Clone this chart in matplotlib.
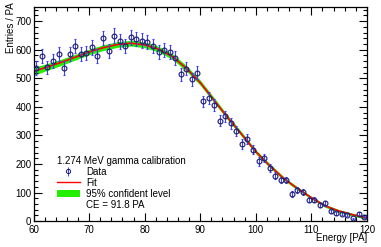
import numpy as np
import matplotlib
matplotlib.use('Agg')
import matplotlib.pyplot as plt
from matplotlib.lines import Line2D
from matplotlib.patches import Patch
from matplotlib.ticker import MultipleLocator

plt.rcParams['font.family'] = ['Liberation Sans', 'DejaVu Sans']

# histogram: bin centres and entries (1 PA bins)
energy = np.arange(60.5, 120, 1.0)
entries = [536, 579, 538, 561, 586, 536, 584, 612, 585, 588,
           608, 579, 641, 594, 649, 629, 614, 643, 637, 632,
           626, 612, 591, 600, 591, 572, 514, 533, 497, 519,
           419, 430, 406, 352, 367, 342, 314, 270, 288, 249,
           209, 220, 185, 159, 144, 144, 95, 109, 101, 74,
           74, 56, 62, 34, 27, 25, 22, 9, 25, 15]
entries = np.array(entries, dtype=float)
errors = np.sqrt(entries)

# fit curve, with the 95% band half-width
fit_x = np.arange(60, 120.1, 2.5)
fit_y = np.array([524, 540, 556, 574, 592, 607, 618, 623, 617, 602,
                  576, 535, 485, 423, 361, 303, 243, 194, 150, 114,
                  82, 53, 35, 22, 11], dtype=float)
band_hw = np.array([14, 12, 11, 10, 10, 10, 10, 10, 10, 10,
                    10, 10, 9, 9, 8, 8, 7, 7, 6, 6,
                    5, 5, 5, 5, 5], dtype=float)

green = '#22ee00'
red = '#ff0000'
err_col = '#3c3cff'
mk_col = '#1a1a70'

fig = plt.figure(figsize=(3.81, 2.47), dpi=100)
ax = fig.add_axes([0.088, 0.105, 0.875, 0.867])

ax.fill_between(fit_x, fit_y - band_hw, fit_y + band_hw, color=green, lw=0, zorder=1)
ax.plot(fit_x, fit_y, color=red, lw=1.2, zorder=2)
ax.errorbar(energy, entries, yerr=errors, fmt='none', ecolor=err_col, elinewidth=0.8,
            capsize=1.0, capthick=0.8, zorder=3)
ax.plot(energy, entries, 'o', ms=3.5, mfc='none', mec=mk_col, mew=0.8, zorder=4)

ax.set_xlim(60, 120)
ax.set_ylim(0, 750)
ax.xaxis.set_major_locator(MultipleLocator(10))
ax.xaxis.set_minor_locator(MultipleLocator(2))
ax.yaxis.set_major_locator(MultipleLocator(100))
ax.yaxis.set_minor_locator(MultipleLocator(20))
ax.tick_params(which='both', direction='in', top=True, right=True, labelsize=7, width=0.8)
ax.tick_params(which='major', length=6)
ax.tick_params(which='minor', length=3)
ax.tick_params(axis='x', pad=2.5)
ax.tick_params(axis='y', pad=1.5)
for s in ax.spines.values():
    s.set_linewidth(0.9)

ax.set_xlabel('Energy [PA]', fontsize=7, loc='right')
ax.xaxis.set_label_coords(1.0, -0.055)
ax.set_ylabel('Entries / PA', fontsize=7, loc='top')
ax.yaxis.set_label_coords(-0.052, 1.02)

h_data = ax.errorbar([], [], yerr=[], fmt='o', ms=3.0, mfc='none', mec=mk_col, mew=0.7,
                     ecolor=err_col, elinewidth=0.7, capsize=1.0)
h_fit = Line2D([], [], color=red, lw=1.0)
h_band = Patch(facecolor=green, edgecolor='none')
h_ce = Line2D([], [], color='none')
leg = ax.legend([h_data, h_fit, h_band, h_ce],
                ['Data', 'Fit', '95% confident level', 'CE = 91.8 PA'],
                title='1.274 MeV gamma calibration', title_fontsize=7, fontsize=7,
                loc='lower left', bbox_to_anchor=(0.055, 0.03), frameon=False,
                alignment='left', borderpad=0, handlelength=2.4, handleheight=0.7,
                handletextpad=0.6, labelspacing=0.1)

fig.savefig('out.png', dpi=100, facecolor='white')
